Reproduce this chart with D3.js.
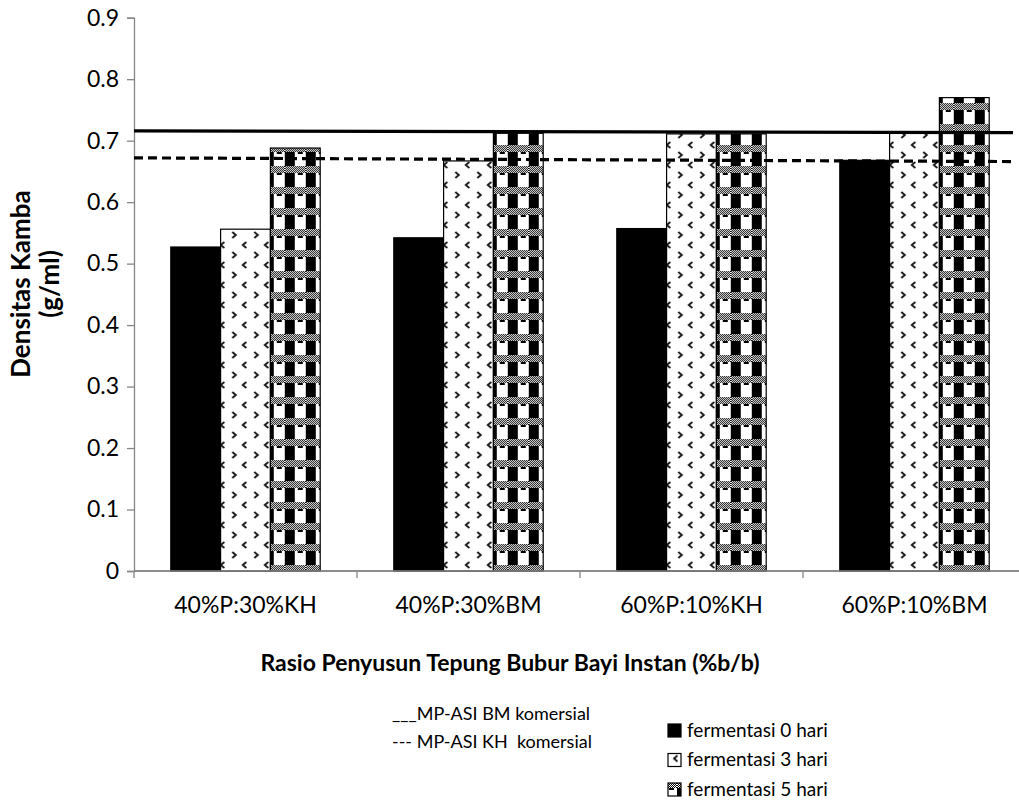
<!DOCTYPE html>
<html>
<head>
<meta charset="utf-8">
<script src="https://cdn.jsdelivr.net/npm/d3@7"></script>
<style>
  html, body { margin: 0; padding: 0; background: #fff; }
  svg { display: block; }
  text { font-family: Lato, "Open Sans", sans-serif; fill: #000; }
</style>
</head>
<body>
<svg id="chart" width="1019" height="804"></svg>
<script>
// Bulk density of instant baby porridge flour by formulation and fermentation time
const categories = ["40%P:30%KH", "40%P:30%BM", "60%P:10%KH", "60%P:10%BM"];
const seriesNames = ["fermentasi 0 hari", "fermentasi 3 hari", "fermentasi 5 hari"];
const ferment0 = [0.527, 0.542, 0.557, 0.668];
const ferment3 = [0.556, 0.667, 0.711, 0.712];
const ferment5 = [0.688, 0.712, 0.711, 0.770];

// Commercial reference products (start and end of each reference line)
const refNames = ["___MP-ASI BM komersial", "--- MP-ASI KH  komersial"];
const refBM = [0.716, 0.713];
const refKH = [0.672, 0.666];

const yTicks = [0, 0.1, 0.2, 0.3, 0.4, 0.5, 0.6, 0.7, 0.8, 0.9];
const yTitle = ["Densitas Kamba", "(g/ml)"];
const xTitle = "Rasio Penyusun Tepung Bubur Bayi Instan (%b/b)";

const svg = d3.select("#chart");
const axisColor = "#868686";

// Plot geometry
const plotLeft = 134, bandRight = 1026, lineRight = 1013, plotTop = 17.7, plotBottom = 571;

const x = d3.scaleBand().domain(categories).range([plotLeft, bandRight]).padding(0);
const groupW = x.bandwidth() * 0.67;
const xs = d3.scaleBand().domain(d3.range(3)).range([0, groupW]).padding(0);
const y = d3.scaleLinear().domain([0, 0.9]).range([plotBottom, plotTop]);

// ---- fill patterns ----
const defs = svg.append("defs");

// small black/white dither used inside the checker weave
const dither = defs.append("pattern").attr("id", "dither")
  .attr("patternUnits", "userSpaceOnUse").attr("width", 2).attr("height", 2);
dither.append("rect").attr("width", 2).attr("height", 2).attr("fill", "#fff");
dither.append("rect").attr("width", 1).attr("height", 1).attr("fill", "#000");
dither.append("rect").attr("x", 1).attr("y", 1).attr("width", 1).attr("height", 1).attr("fill", "#000");

// chevron dots (3 days)
const dots = defs.append("pattern").attr("id", "chevrons")
  .attr("patternUnits", "userSpaceOnUse").attr("width", 22).attr("height", 20)
  .attr("x", 3).attr("y", 1);
dots.append("rect").attr("width", 22).attr("height", 20).attr("fill", "#fff");
dots.append("path").attr("d", "M6.5,1 L3,4 L6.5,7").attr("fill", "none")
  .attr("stroke", "#111").attr("stroke-width", 1.8);
dots.append("path").attr("d", "M14.5,11 L18,14 L14.5,17").attr("fill", "none")
  .attr("stroke", "#111").attr("stroke-width", 1.8);

// checker weave (5 days)
const weave = defs.append("pattern").attr("id", "weave")
  .attr("patternUnits", "userSpaceOnUse").attr("width", 21).attr("height", 21)
  .attr("x", 9).attr("y", 19);
weave.append("rect").attr("width", 21).attr("height", 21).attr("fill", "#fff");
weave.append("rect").attr("x", 0).attr("y", 7).attr("width", 10).attr("height", 14).attr("fill", "#000");
weave.append("rect").attr("x", 0).attr("y", 0).attr("width", 21).attr("height", 7).attr("fill", "url(#dither)");
weave.append("rect").attr("x", 13).attr("y", 7).attr("width", 5).attr("height", 2).attr("fill", "#000");

const fills = ["#000", "url(#chevrons)", "url(#weave)"];

// ---- axes ----
const tickFont = 23;
const yAxis = svg.append("g").attr("transform", `translate(${plotLeft},0)`)
  .call(d3.axisLeft(y).tickValues(yTicks).tickSize(7).tickPadding(8)
    .tickFormat(d => d === 0 ? "0" : d3.format(".1f")(d)));
yAxis.select(".domain").attr("stroke", axisColor).attr("stroke-width", 1.3);
yAxis.selectAll(".tick line").attr("stroke", axisColor).attr("stroke-width", 1.3);
yAxis.selectAll(".tick text").attr("font-size", tickFont).attr("font-family", "Lato").attr("fill", "#000");

const xAxis = svg.append("g").attr("transform", `translate(0,${plotBottom})`)
  .call(d3.axisBottom(x).tickSize(0).tickPadding(26));
xAxis.select(".domain").attr("stroke", axisColor).attr("stroke-width", 1.3)
  .attr("d", `M${plotLeft},0H${1019}`);
xAxis.selectAll(".tick text").attr("font-size", tickFont).attr("font-family", "Lato").attr("fill", "#000");
// category boundary ticks
svg.append("g").selectAll("line")
  .data(categories.map(c => x(c)).concat([x(categories[3]) + x.bandwidth()]))
  .join("line")
  .attr("x1", d => d).attr("x2", d => d)
  .attr("y1", plotBottom).attr("y2", plotBottom + 7)
  .attr("stroke", axisColor).attr("stroke-width", 1.3);

// ---- bars ----
const seriesValues = [ferment0, ferment3, ferment5];
const groups = svg.append("g").selectAll("g")
  .data(categories)
  .join("g")
  .attr("transform", c => `translate(${x(c) + (x.bandwidth() - groupW) / 2},0)`);

groups.selectAll("rect")
  .data((c, i) => seriesValues.map((vals, s) => ({ s, v: vals[i] })))
  .join("rect")
  .attr("x", d => xs(d.s))
  .attr("width", xs.bandwidth())
  .attr("y", d => y(d.v))
  .attr("height", d => y(0) - y(d.v))
  .attr("fill", d => fills[d.s])
  .attr("stroke", "#000")
  .attr("stroke-width", 1.2);

// redraw the axis line over bar bottoms
svg.append("line").attr("x1", plotLeft).attr("x2", 1019).attr("y1", plotBottom).attr("y2", plotBottom)
  .attr("stroke", axisColor).attr("stroke-width", 1.3);

// ---- reference lines ----
const xl = d3.scaleLinear().domain([0, 1]).range([plotLeft, lineRight]);
const line = d3.line().x((d, i) => xl(i)).y(d => y(d));
svg.append("path").datum(refBM).attr("d", line)
  .attr("fill", "none").attr("stroke", "#000").attr("stroke-width", 3.3);
svg.append("path").datum(refKH).attr("d", line)
  .attr("fill", "none").attr("stroke", "#000").attr("stroke-width", 3.2)
  .attr("stroke-dasharray", "9,5");

// ---- axis titles ----
const yt = svg.append("text")
  .attr("transform", "translate(0,284) rotate(-90)")
  .attr("text-anchor", "middle").attr("font-weight", "bold").attr("font-size", 26);
yt.selectAll("tspan").data(yTitle).join("tspan")
  .attr("x", 0).attr("y", (d, i) => 30 + i * 29).text(d => d);

svg.append("text").attr("x", 510).attr("y", 671)
  .attr("text-anchor", "middle").attr("font-weight", "bold").attr("font-size", 23)
  .text(xTitle);

// ---- legends ----
const refLegend = svg.append("g").attr("font-size", 18);
refLegend.selectAll("text").data(refNames).join("text")
  .attr("x", 392).attr("y", (d, i) => 720 + i * 28)
  .style("white-space", "pre")
  .text(d => d);

const barLegend = svg.append("g").selectAll("g").data(seriesNames).join("g")
  .attr("transform", (d, i) => `translate(668,${724 + i * 29.5})`);
barLegend.append("rect").attr("width", 13).attr("height", 13)
  .attr("fill", (d, i) => fills[i]).attr("stroke", "#000").attr("stroke-width", 1.2);
barLegend.append("text").attr("x", 19).attr("y", 12.5).attr("font-size", 19).text(d => d);
</script>
</body>
</html>
